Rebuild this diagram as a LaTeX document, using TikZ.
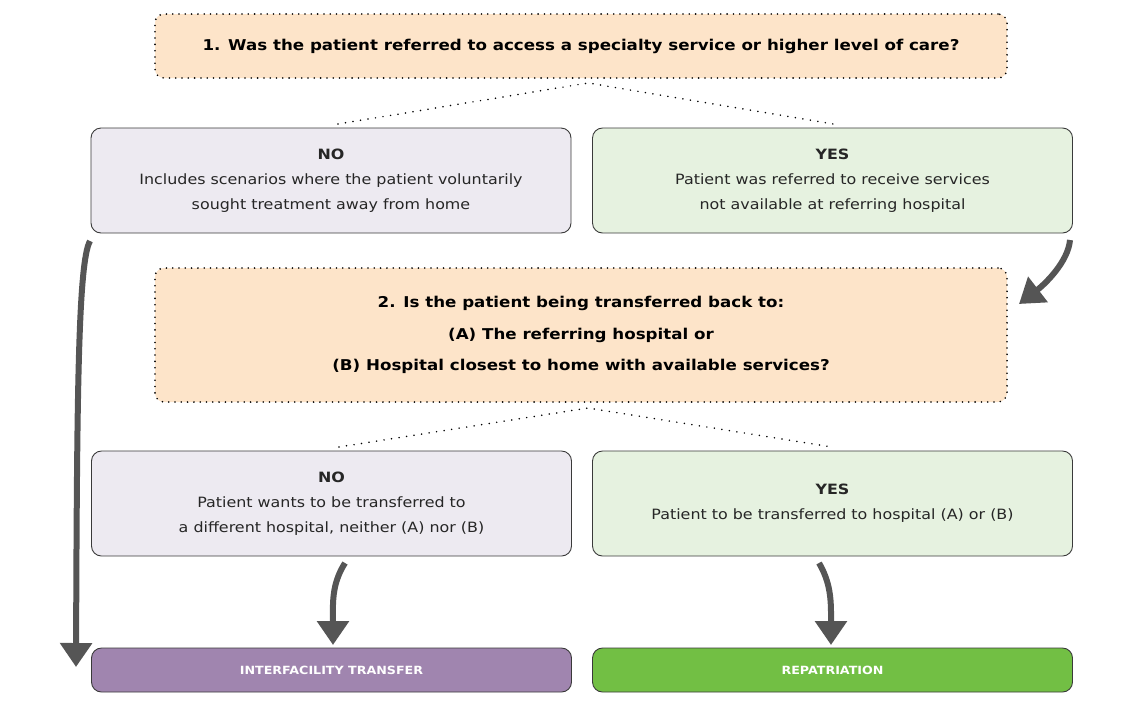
\documentclass[tikz,border=0pt]{standalone}
\usepackage{fontspec}
\setmainfont[FakeStretch=1.12]{DejaVu Sans}
\usepackage{tikz}
\usetikzlibrary{arrows.meta}

\definecolor{peach}{HTML}{FDE4C9}
\definecolor{lavender}{HTML}{EDEAF1}
\definecolor{palegreen}{HTML}{E6F2E0}
\definecolor{outcomepurple}{HTML}{A085AF}
\definecolor{outcomegreen}{HTML}{72BF44}
\definecolor{arrowgray}{HTML}{555555}
\definecolor{boxline}{HTML}{3A3A3A}

\begin{document}
\begin{tikzpicture}[x=1pt,y=-1pt,
	question/.style={rectangle, rounded corners=9pt, fill=peach, draw=black, line width=1.8pt,
		dash pattern=on 0pt off 6.3pt, line cap=round, inner sep=0pt, align=center,
		font=\fontsize{14.9}{31.5}\selectfont\bfseries, minimum width=852pt},
	answer/.style={rectangle, rounded corners=10pt, draw=boxline, line width=0.9pt, inner sep=0pt,
		align=center, text=black!85, font=\fontsize{14.2}{25}\selectfont,
		minimum width=480pt, minimum height=105pt},
	outcome/.style={rectangle, rounded corners=10pt, draw=boxline, line width=0.9pt, inner sep=0pt,
		text=white, font=\fontsize{11.3}{14}\selectfont\bfseries,
		minimum width=480pt, minimum height=44pt},
	branch/.style={draw=black, line width=1.7pt, dash pattern=on 0pt off 7.6pt, line cap=round},
	bigarrow/.style={draw=arrowgray, line width=6pt, -{Triangle[width=31pt,length=24pt]}}
	]
	\useasboundingbox (0,0) rectangle (1145,713);

	% questions
	\node[question, minimum height=64pt] (q1) at (581,46)
		{1. Was the patient referred to access a specialty service or higher level of care?};
	\node[question, minimum height=134pt] (q2) at (581,335)
		{2. Is the patient being transferred back to:\\(A) The referring hospital or\\(B) Hospital closest to home with available services?};

	% answers
	\node[answer, fill=lavender] (no1) at (331,180.5)
		{\textbf{NO}\\Includes scenarios where the patient voluntarily\\sought treatment away from home};
	\node[answer, fill=palegreen] (yes1) at (832.5,180.5)
		{\textbf{YES}\\Patient was referred to receive services\\not available at referring hospital};
	\node[answer, fill=lavender] (no2) at (331.5,503.5)
		{\textbf{NO}\\Patient wants to be transferred to\\a different hospital, neither (A) nor (B)};
	\node[answer, fill=palegreen] (yes2) at (832.5,503.5)
		{\textbf{YES}\\Patient to be transferred to hospital (A) or (B)};

	% outcomes
	\node[outcome, fill=outcomepurple] (transfer) at (331.5,670) {INTERFACILITY TRANSFER};
	\node[outcome, fill=outcomegreen] (repat) at (832.5,670) {REPATRIATION};

	% dotted branches
	\coordinate (b1) at (588,83);
	\coordinate (b1l) at (338,124);
	\coordinate (b1r) at (833,124);
	\coordinate (b2) at (588,408);
	\coordinate (b2l) at (339,447);
	\coordinate (b2r) at (832,447);
	\draw[branch] (b1l) -- (b1) -- (b1r);
	\draw[branch] (b2l) -- (b2) -- (b2r);

	% arrows
	\coordinate (lt) at (90,241);
	\coordinate (lb) at (76,667);
	\coordinate (rt) at (1070,240);
	\coordinate (rb) at (1019,304);
	\coordinate (nt) at (345,563);
	\coordinate (nb) at (333,645);
	\coordinate (yt) at (819,563);
	\coordinate (yb) at (831,645);
	\draw[bigarrow] (lt) .. controls (78,262) and (77,400) .. (lb);
	\draw[bigarrow] (rt) .. controls (1068,262) and (1045,284) .. (rb);
	\draw[bigarrow] (nt) .. controls (331,585) and (333,605) .. (nb);
	\draw[bigarrow] (yt) .. controls (832,585) and (831,605) .. (yb);
\end{tikzpicture}
\end{document}
